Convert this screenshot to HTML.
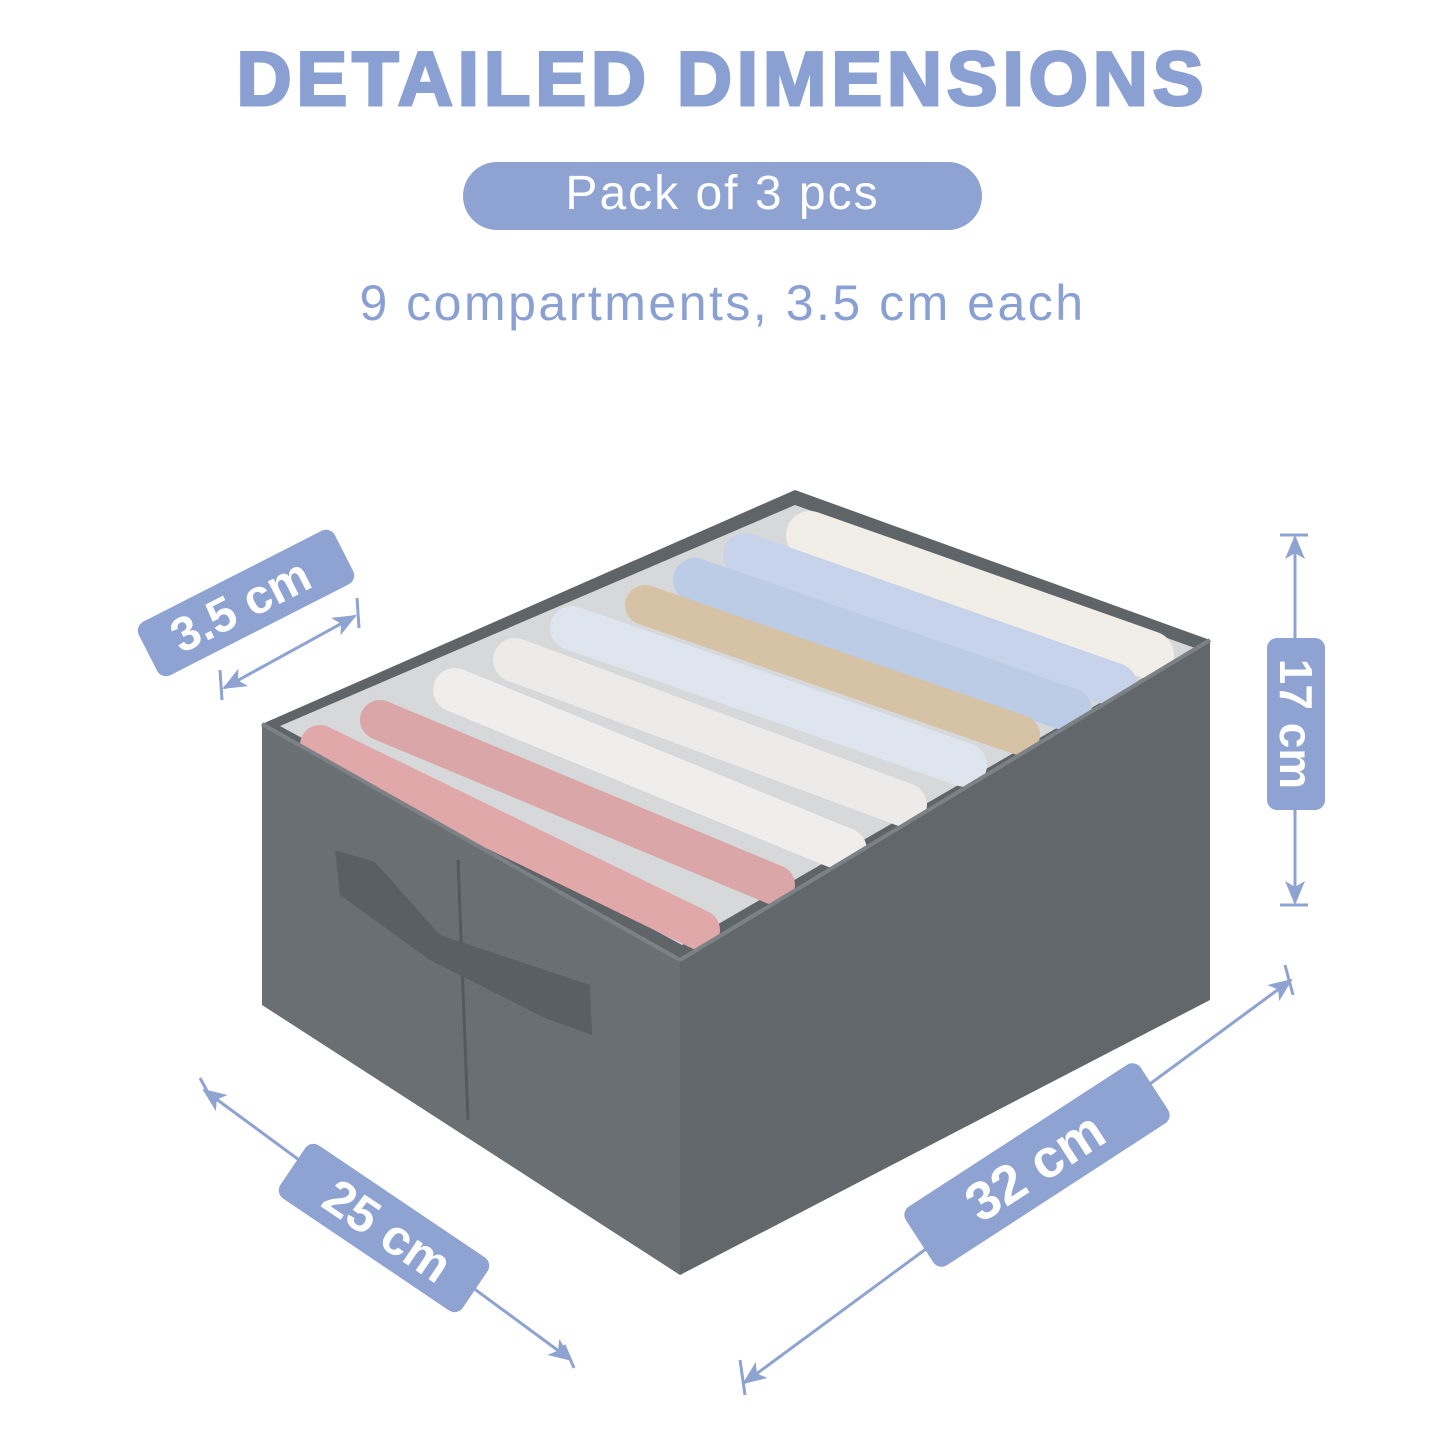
<!DOCTYPE html>
<html><head><meta charset="utf-8"><style>
html,body{margin:0;padding:0;background:#fff;}
body{width:1445px;height:1445px;position:relative;overflow:hidden;font-family:"Liberation Sans",sans-serif;}
.t{position:absolute;left:0;width:1445px;text-align:center;color:#8aa0d2;}
</style></head><body>
<div class="t" style="top:36px;font-size:76px;font-weight:900;letter-spacing:5px;-webkit-text-stroke:3px #8aa0d2;">DETAILED DIMENSIONS</div>
<div style="position:absolute;left:463px;top:162px;width:519px;height:68px;border-radius:34px;background:#8ea3d2;color:#fff;font-size:48px;letter-spacing:2px;text-align:center;line-height:64px;">Pack of 3 pcs</div>
<div class="t" style="top:274px;font-size:50px;letter-spacing:2.5px;">9 compartments, 3.5 cm each</div>
<svg width="1445" height="1445" style="position:absolute;left:0;top:0">
<defs>
<marker id="a" markerWidth="24" markerHeight="20" refX="22" refY="10" orient="auto-start-reverse" markerUnits="userSpaceOnUse" viewBox="0 0 24 20"><path d="M0,0 L24,10 L0,20 L6,10 Z" fill="#8ea3d2"/></marker>
</defs>
<polygon points="262,724 795,490 1210,640 680,960" fill="#5f6469"/>
<polygon points="280,726 795,505 1195,648 682,945" fill="#d6d8da"/>
<g stroke-linecap="round" fill="none">
<line x1="810" y1="535" x2="1150" y2="655" stroke="#f1eee8" stroke-width="48"/>
<line x1="745" y1="555" x2="1115" y2="685" stroke="#c7d3ea" stroke-width="44"/>
<line x1="695" y1="580" x2="1070" y2="710" stroke="#bccbe6" stroke-width="44"/>
<line x1="645" y1="605" x2="1020" y2="735" stroke="#d6c3a6" stroke-width="40"/>
<line x1="572" y1="628" x2="965" y2="765" stroke="#dfe5ef" stroke-width="44"/>
<line x1="515" y1="660" x2="905" y2="805" stroke="#ecebea" stroke-width="44"/>
<line x1="455" y1="690" x2="845" y2="850" stroke="#efeeec" stroke-width="44"/>
<line x1="380" y1="720" x2="775" y2="885" stroke="#dba6a8" stroke-width="40"/>
<line x1="320" y1="745" x2="700" y2="930" stroke="#e1a8aa" stroke-width="40"/>
</g>
<polygon points="262,724 680,960 680,1275 262,1005" fill="#6a6f74"/>
<polygon points="680,960 1210,640 1210,1000 680,1275" fill="#62676c"/>
<line x1="262" y1="724" x2="680" y2="960" stroke="#7c8186" stroke-width="4"/>
<line x1="680" y1="960" x2="1210" y2="640" stroke="#7c8186" stroke-width="4"/>
<line x1="458" y1="860" x2="468" y2="1120" stroke="#55595d" stroke-width="3"/>
<path d="M335,850 L375,862 L440,935 L590,985 L592,1035 L545,1018 L430,960 L340,895 Z" fill="#5a5f64"/>
<g stroke="#8ea3d2" stroke-width="3">
<line x1="224" y1="688" x2="355" y2="616" marker-start="url(#a)" marker-end="url(#a)"/>
<line x1="220" y1="670" x2="222" y2="700"/><line x1="357" y1="598" x2="359" y2="628"/>
<line x1="1295" y1="537" x2="1295" y2="903" marker-start="url(#a)" marker-end="url(#a)"/>
<line x1="1280" y1="535" x2="1308" y2="535"/><line x1="1280" y1="905" x2="1308" y2="905"/>
<line x1="204" y1="1090" x2="571" y2="1360" marker-start="url(#a)" marker-end="url(#a)"/>
<line x1="200" y1="1078" x2="212" y2="1100"/><line x1="564" y1="1345" x2="574" y2="1368"/>
<line x1="744" y1="1383" x2="1291" y2="980" marker-start="url(#a)" marker-end="url(#a)"/>
<line x1="740" y1="1360" x2="745" y2="1395"/><line x1="1285" y1="965" x2="1293" y2="995"/>
</g>
<g fill="#8ea3d2">
<rect x="-110" y="-30" width="220" height="60" rx="10" transform="translate(246,603) rotate(-27)"/>
<rect x="1267" y="638" width="58" height="172" rx="10"/>
<rect x="-110" y="-32" width="220" height="64" rx="10" transform="translate(384,1228) rotate(34)"/>
<rect x="-140" y="-35" width="280" height="70" rx="10" transform="translate(1037,1165) rotate(-33)"/>
</g>
<g fill="#fff" font-family="Liberation Sans, sans-serif" font-weight="900" text-anchor="middle">
<text transform="translate(248,620) rotate(-27)" font-size="48">3.5 cm</text>
<text transform="translate(1280,724) rotate(90)" font-size="46">17 cm</text>
<text transform="translate(378,1245) rotate(34)" font-size="50">25 cm</text>
<text transform="translate(1045,1182) rotate(-33)" font-size="54">32 cm</text>
</g>
</svg>
</body></html>
